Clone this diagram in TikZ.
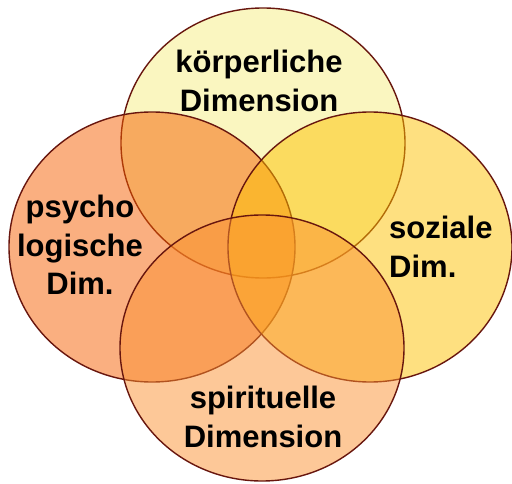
\documentclass[tikz,border=0pt]{standalone}
\usepackage{fontspec}
\setmainfont{Liberation Sans}
\usetikzlibrary{positioning}

\definecolor{koerperfill}{RGB}{245,237,129}
\definecolor{psychofill}{RGB}{245,95,1}
\definecolor{sozialfill}{RGB}{253,193,1}
\definecolor{geistfill}{RGB}{251,145,49}
\definecolor{rimcol}{RGB}{104,22,14}

\tikzset{
	dimring/.style={draw=rimcol, line width=1.4pt, fill opacity=0.5},
	dimlabel/.style={font=\bfseries\fontsize{31}{38.5}\selectfont, inner sep=0pt, align=center}
}

\begin{document}
\begin{tikzpicture}[x=1pt,y=1pt]
			\useasboundingbox (0,0) rectangle (512,483);
			\draw[dimring, fill=koerperfill](263,340) ellipse(142 and 135);
			\draw[dimring, fill=psychofill](152,236) ellipse(143 and 135);
			\draw[dimring, fill=sozialfill](370,236) ellipse(142 and 135);
			\draw[dimring, fill=geistfill](262,135) ellipse(142 and 133);
			\node[dimlabel] (koerper) at (259,402) {körperliche\\Dimension};
			\node[dimlabel] (psycho) at (80,238) {psycho\\logische\\Dim.};
			\node[dimlabel, align=left, anchor=west] (sozial) at (389,236) {soziale\\Dim.};
			\node[dimlabel] (geist) at (263,66) {spirituelle\\Dimension};
		\end{tikzpicture}
\end{document}
